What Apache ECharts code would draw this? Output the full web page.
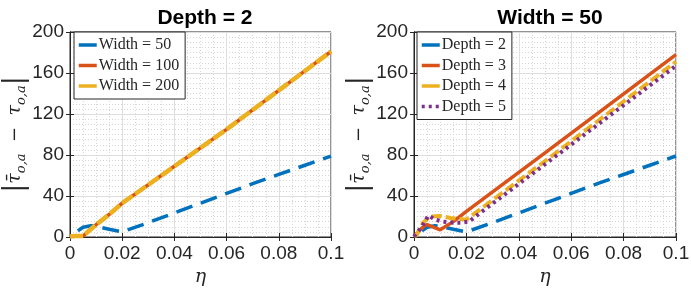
<!DOCTYPE html>
<html>
<head>
<meta charset="utf-8">
<script src="https://cdn.jsdelivr.net/npm/echarts@6/dist/echarts.min.js"></script>
<style>
html, body { margin: 0; padding: 0; background: #fff; }
#chart { width: 691px; height: 297px; }
</style>
</head>
<body>
<div id="chart"></div>
<script>
// left panel: Depth = 2
var etaW50 = [0.003, 0.005, 0.008, 0.01, 0.015, 0.02, 0.03, 0.04, 0.05, 0.06, 0.07, 0.08, 0.09, 0.1];
var valW50 = [6, 9.5, 11, 10.5, 7.5, 5, 14, 23.5, 33, 42.5, 52, 61, 70, 79];
var etaW100 = [0, 0.002, 0.005, 0.01, 0.015, 0.02, 0.03, 0.04, 0.05, 0.06, 0.07, 0.08, 0.09, 0.1];
var valW100 = [0.5, 1, 1, 12, 22, 33, 51, 69, 87, 105, 124, 143, 162, 181];
var valW200 = [0.5, 1, 1, 12, 22, 33, 51, 69, 87, 105, 124, 143, 162, 181];

// right panel: Width = 50
var etaD3 = [0, 0.002, 0.004, 0.005, 0.01, 0.015, 0.02, 0.05, 0.1];
var valD3 = [0.5, 6, 11, 12, 7, 15, 25, 82, 178];
var etaD4 = [0, 0.001, 0.0035, 0.006, 0.01, 0.014, 0.019, 0.02, 0.05, 0.1];
var valD4 = [0.5, 2, 14, 20, 20.5, 18.5, 17, 17, 74, 171];
var etaD5 = [0, 0.003, 0.0055, 0.008, 0.011, 0.015, 0.018, 0.021, 0.025, 0.05, 0.1];
var valD5 = [0.5, 10, 21, 17, 15, 14, 14, 15, 23, 71, 167];

var titles = ['Depth = 2', 'Width = 50'];

var C_BLUE = '#0072BD', C_ORANGE = '#D95319', C_YELLOW = '#EDB120', C_PURPLE = '#7E2F8E';
var AX = '#262626';
var tickFont = { fontFamily: 'Liberation Sans', fontSize: 19, color: AX };

function pairs(xs, ys) {
    var out = [];
    for (var i = 0; i < xs.length; i++) out.push([xs[i], ys[i]]);
    return out;
}

var grids = [
    { left: 70, top: 32, width: 261, height: 205, show: true, borderColor: AX, borderWidth: 1, outerBoundsMode: 'none', containLabel: false },
    { left: 414, top: 32, width: 262, height: 205, show: true, borderColor: AX, borderWidth: 1, outerBoundsMode: 'none', containLabel: false }
];

var xAxes = [], yAxes = [];
for (var g = 0; g < 2; g++) {
    xAxes.push({
        type: 'value', gridIndex: g, min: 0, max: 0.1, interval: 0.02,
        name: 'η', nameLocation: 'middle', nameGap: 29,
        nameTextStyle: { fontFamily: 'DejaVu Serif', fontStyle: 'italic', fontSize: 19, color: AX },
        axisLine: { show: true, lineStyle: { color: AX, width: 1 } },
        axisTick: { show: true, inside: true, length: 4, lineStyle: { color: AX } },
        axisLabel: Object.assign({ margin: 7, formatter: function (v) { return v === 0 ? '0' : String(+v.toFixed(2)); } }, tickFont),
        splitLine: { show: true, lineStyle: { color: '#dedede', width: 1 } },
        minorTick: { show: false, splitNumber: 4 },
        minorSplitLine: { show: true, lineStyle: { color: '#d6d6d6', width: 1, type: [1, 2] } }
    });
    xAxes.push({
        type: 'value', gridIndex: g, position: 'top', min: 0, max: 0.1, interval: 0.02,
        axisLine: { show: true, lineStyle: { color: AX } },
        axisTick: { show: true, inside: true, length: 4, lineStyle: { color: AX } },
        axisLabel: { show: false }, splitLine: { show: false }
    });
    yAxes.push({
        type: 'value', gridIndex: g, min: 0, max: 200, interval: 40,
        name: '{b||}{t|τ̄}{s|o,a}{m|  −  }{t|τ}{s|o,a}{b||}',
        nameLocation: 'middle', nameGap: 39, nameRotate: 90,
        nameTextStyle: {
            color: AX,
            rich: {
                b: { fontFamily: 'DejaVu Serif', fontSize: 27, color: AX, lineHeight: 26 },
                t: { fontFamily: 'DejaVu Serif', fontStyle: 'italic', fontSize: 19, color: AX, lineHeight: 26 },
                s: { fontFamily: 'DejaVu Serif', fontStyle: 'italic', fontSize: 13, color: AX, lineHeight: 26, verticalAlign: 'bottom', padding: [8, 0, 0, 0] },
                m: { fontFamily: 'DejaVu Serif', fontSize: 18, color: AX, lineHeight: 26 }
            }
        },
        axisLine: { show: true, lineStyle: { color: AX, width: 1 } },
        axisTick: { show: true, inside: true, length: 4, lineStyle: { color: AX } },
        axisLabel: Object.assign({ margin: 6 }, tickFont),
        splitLine: { show: true, lineStyle: { color: '#dedede', width: 1 } },
        minorTick: { show: false, splitNumber: 8 },
        minorSplitLine: { show: true, lineStyle: { color: '#d6d6d6', width: 1, type: [1, 2] } }
    });
    yAxes.push({
        type: 'value', gridIndex: g, position: 'right', min: 0, max: 200, interval: 40,
        axisLine: { show: true, lineStyle: { color: AX } },
        axisTick: { show: true, inside: true, length: 4, lineStyle: { color: AX } },
        axisLabel: { show: false }, splitLine: { show: false }
    });
}

function line(name, xi, yi, data, color, width, type) {
    return {
        name: name, type: 'line', xAxisIndex: xi, yAxisIndex: yi,
        data: data, symbol: 'none', animation: false, clip: true,
        lineStyle: { color: color, width: width, type: type, cap: 'butt' },
        itemStyle: { color: color }
    };
}

var series = [
    line('Width = 50', 0, 0, pairs(etaW50, valW50), C_BLUE, 3.5, [17, 9]),
    line('Width = 100', 0, 0, pairs(etaW100, valW100), C_ORANGE, 3.5, 'solid'),
    line('Width = 200', 0, 0, pairs(etaW100, valW200), C_YELLOW, 4.5, [13, 3]),
    line('Depth = 2', 2, 2, pairs(etaW50, valW50), C_BLUE, 3.5, [17, 9]),
    line('Depth = 3', 2, 2, pairs(etaD3, valD3), C_ORANGE, 3.5, 'solid'),
    line('Depth = 4', 2, 2, pairs(etaD4, valD4), C_YELLOW, 4, [10, 4]),
    line('Depth = 5', 2, 2, pairs(etaD5, valD5), C_PURPLE, 4, [3, 4])
];

var legendBase = {
    orient: 'vertical', backgroundColor: '#fff', borderColor: AX, borderWidth: 1,
    padding: [5, 6, 5, 3], itemWidth: 18, itemHeight: 13, itemGap: 4.5,
    itemStyle: { opacity: 0 },
    lineStyle: { width: 3.5 },
    textStyle: { fontFamily: 'Liberation Serif', fontSize: 16, color: AX, padding: [0, 0, 0, -3] },
    selectedMode: false
};

function legendItems(names, types) {
    var out = [];
    for (var i = 0; i < names.length; i++) {
        out.push({ name: names[i], lineStyle: { width: 3.5, type: types[i] } });
    }
    return out;
}

var option = {
    animation: false,
    backgroundColor: '#fff',
    title: [
        { text: titles[0], left: 200, top: 3, textAlign: 'center', textStyle: { fontFamily: 'Liberation Sans', fontWeight: 'bold', fontSize: 21, color: '#000' } },
        { text: titles[1], left: 545, top: 3, textAlign: 'center', textStyle: { fontFamily: 'Liberation Sans', fontWeight: 'bold', fontSize: 21, color: '#000' } }
    ],
    grid: grids,
    xAxis: xAxes,
    yAxis: yAxes,
    legend: [
        Object.assign({}, legendBase, { left: 74, top: 32,
            data: legendItems(['Width = 50', 'Width = 100', 'Width = 200'], ['solid', 'solid', 'solid']) }),
        Object.assign({}, legendBase, { left: 417, top: 32,
            data: legendItems(['Depth = 2', 'Depth = 3', 'Depth = 4', 'Depth = 5'], ['solid', 'solid', 'solid', [3, 4]]) })
    ],
    series: series
};

var myChart = echarts.init(document.getElementById('chart'));
myChart.setOption(option);
</script>
</body>
</html>
